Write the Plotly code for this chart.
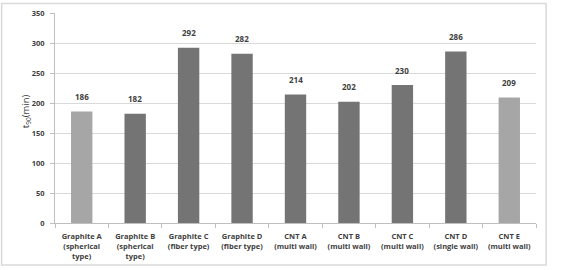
import plotly.graph_objects as go

categories = ["Graphite A<br>(spherical<br>type)", "Graphite B<br>(spherical<br>type)",
              "Graphite C<br>(fiber type)", "Graphite D<br>(fiber type)",
              "CNT A<br>(multi wall)", "CNT B<br>(multi wall)", "CNT C<br>(multi wall)",
              "CNT D<br>(single wall)", "CNT E<br>(multi wall)"]
values = [186, 182, 292, 282, 214, 202, 230, 286, 209]
colors = ["#a6a6a6", "#747474", "#747474", "#747474", "#747474", "#747474", "#747474", "#747474", "#a6a6a6"]
y_ticks = [0, 50, 100, 150, 200, 250, 300, 350]

fig = go.Figure()
fig.add_trace(go.Bar(x=categories, y=values, marker=dict(color=colors, line=dict(width=0)),
                     hoverinfo="skip"))

for c, v in zip(categories, values):
    fig.add_annotation(x=c, y=v, text=f"<b>{v}</b>", showarrow=False, yshift=15,
                       font=dict(family="Open Sans", size=8, color="#404040"))

fig.add_annotation(xref="paper", yref="paper", x=-0.08, y=0.53, text="t<sub>90</sub>(min)",
                   textangle=-90, showarrow=False,
                   font=dict(family="Open Sans", size=9.5, color="#404040"))

fig.add_shape(type="rect", xref="paper", yref="paper", x0=-0.111, x1=1.021, y0=-0.2, y1=1.045,
              line=dict(color="#d9d9d9", width=1.5), fillcolor="rgba(0,0,0,0)", layer="below")

fig.update_layout(
    width=579, height=270,
    margin=dict(l=55, r=43, t=13, b=47, autoexpand=False),
    paper_bgcolor="white", plot_bgcolor="white",
    bargap=0.6, showlegend=False,
    font=dict(family="Open Sans", size=7.5, color="#404040"),
)
fig.update_xaxes(showline=True, linecolor="#bfbfbf", linewidth=1, ticks="outside",
                 tickson="boundaries", ticklen=4, tickcolor="#bfbfbf",
                 ticklabelstandoff=6, tickangle=0, automargin=False,
                 tickfont=dict(family="Open Sans", size=7.5, color="#404040", weight="bold"),
                 showgrid=False)
fig.update_yaxes(range=[0, 350], tickvals=y_ticks, showline=True, linecolor="#bfbfbf",
                 ticks="outside", ticklen=4, tickcolor="#bfbfbf", ticklabelstandoff=4,
                 automargin=False,
                 gridcolor="#d9d9d9", gridwidth=1, zeroline=False,
                 tickfont=dict(family="Open Sans", size=7.5, color="#404040", weight="bold"))

fig.write_html("out.html")
